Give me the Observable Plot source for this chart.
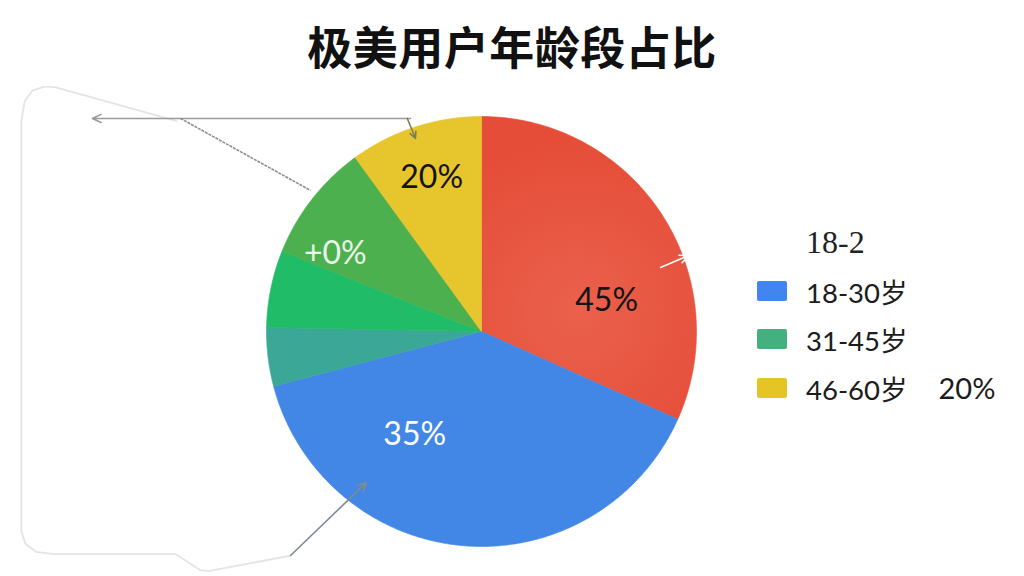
<!DOCTYPE html>
<html><head><meta charset="utf-8">
<script src="https://cdn.jsdelivr.net/npm/d3@7"></script>
<script src="https://cdn.jsdelivr.net/npm/@observablehq/plot@0.6"></script>
<style>
  html,body{margin:0;padding:0;background:#fff;}
  body{width:1024px;height:576px;overflow:hidden;position:relative;font-family:Lato,"Noto Sans CJK SC",sans-serif;}
  #title{position:absolute;left:0;top:23px;width:1024px;text-align:center;font:700 45px/1 "Noto Sans CJK SC",sans-serif;color:#111;letter-spacing:0.5px;}
  #chart{position:absolute;left:0;top:86px;}
  #legend{position:absolute;left:757px;top:218px;}
  .row{height:48.5px;display:flex;align-items:center;font:400 27.5px Lato,"Noto Sans CJK SC",sans-serif;color:#1c1c1c;white-space:pre;}
  .sw{width:30px;height:20px;margin-right:19px;border-radius:2px;flex:none;}
  .note{margin-left:31px;font-size:29px;}
  .first{padding-left:49px;font-family:"Liberation Serif","DejaVu Serif",serif;font-size:32px;color:#222;}
</style>
</head><body>
<div id="title">极美用户年龄段占比</div>
<div id="chart"></div>
<div id="legend"></div>
<script>
// ---- data ----
const sliceKeys   = ["red", "blue", "teal", "brightGreen", "green", "yellow"];
const sliceShares = [31.7, 39.2, 4.4, 5.8, 8.9, 10.0];   // share of the circle
const labelTexts  = ["45%", "35%", "+0%", "20%"];
const labelSlices = ["red", "blue", "green", "yellow"];
const legendLabels = ["18-2", "18-30岁", "31-45岁", "46-60岁"];
const legendNotes  = ["", "", "", "20%"];
const legendSlices = [null, "blue", "teal", "yellow"];

// ---- style / layout ----
const sliceColors = {red: "url(#redGrad)", blue: "#4287E6", teal: "#3AA797", brightGreen: "#20BC68", green: "#4DB04F", yellow: "#E7C52C"};
const legendColors = {blue: "#4285F0", teal: "#45B07F", yellow: "#E5C525"};
const labelStyle = [
  {angle: 76, r: 0.60, fill: "#141414"},
  {angle: 213, r: 0.57, fill: "#ffffff"},
  {angle: 298, r: 0.77, fill: "#e9f6ea"},
  {angle: 342, r: 0.75, fill: "#141414"}
];
const W = 1024, H = 490, cx = 481, cy = 245, R = 215;

// pie geometry from the shares
const arcs = d3.pie().sort(null).value(d => d.share)
  .startAngle(0).endAngle(2 * Math.PI)(sliceKeys.map((k, i) => ({key: k, share: sliceShares[i]})));
const polys = [];
for (const a of arcs) {
  const n = Math.max(4, Math.ceil((a.endAngle - a.startAngle) / 0.01));
  polys.push({key: a.data.key, x: 0, y: 0});
  for (let j = 0; j <= n; j++) {
    const t = a.startAngle + (a.endAngle - a.startAngle) * j / n;
    polys.push({key: a.data.key, x: Math.sin(t), y: Math.cos(t)});
  }
  polys.push({key: a.data.key, x: 0, y: 0});
}
const labels = labelTexts.map((t, i) => {
  const s = labelStyle[i], th = s.angle * Math.PI / 180;
  return {text: t, slice: labelSlices[i], x: s.r * Math.sin(th), y: s.r * Math.cos(th), fill: s.fill};
});

// decorative connector lines (in pie-radius units)
const frame = [[-1.42,0.98],[-1.98,1.135],[-2.03,1.14],[-2.09,1.12],[-2.125,1.07],[-2.14,0.98],[-2.14,-0.93],[-2.12,-0.99],[-2.07,-1.025],[-1.99,-1.035],[-1.423,-1.035],[-1.307,-1.11],[-1.27,-1.115],[-0.888,-1.042]].map(([x,y]) => ({x,y}));
const connectors = [
  {x1: -1.40, y1: 0.991, x2: -0.795, y2: 0.656, s: "#8a8a8a", w: 1.6, head: 0},
  {x1: -0.888, y1: -1.042, x2: -0.535, y2: -0.702, s: "#7f8a90", w: 1.6, head: 10},
  {x1: -0.33, y1: 0.991, x2: -1.81, y2: 0.991, s: "#9a9a9a", w: 1.6, head: 10},
  {x1: -0.345, y1: 0.991, x2: -0.307, y2: 0.898, s: "#7d7d5a", w: 1.6, head: 8},
  {x1: 0.833, y1: 0.298, x2: 0.963, y2: 0.353, s: "#ffffff", w: 1.3, head: 7}
];

const plot = Plot.plot({
  width: W, height: H, margin: 0,
  x: {domain: [-cx / R, (W - cx) / R], axis: null},
  y: {domain: [-(H - cy) / R, cy / R], axis: null},
  color: {type: "ordinal", domain: sliceKeys, range: sliceKeys.map(k => sliceColors[k])},
  marks: [
    Plot.line(polys, {x: "x", y: "y", z: "key", fill: "key", stroke: "key", strokeWidth: 0.6, curve: "linear"}),
    Plot.line(frame, {x: "x", y: "y", stroke: "#e4e4e4", strokeWidth: 1.8, curve: "linear"}),
    Plot.arrow(connectors.filter(d => d.head > 0), {x1: "x1", y1: "y1", x2: "x2", y2: "y2", stroke: d => d.s, strokeWidth: 1.6, headLength: 9, headAngle: 50}),
    Plot.link(connectors.filter(d => d.head === 0), {x1: "x1", y1: "y1", x2: "x2", y2: "y2", stroke: "#8e8e8e", strokeWidth: 1.6, strokeDasharray: "3,1"}),
    Plot.text(labels, {x: "x", y: "y", text: "text", fill: "fill", fontSize: 32, fontFamily: "Lato, sans-serif", fontWeight: 400})
  ]
});
// soft radial gradient for the red slice
const defs = d3.select(plot).insert("defs", ":first-child");
const g = defs.append("radialGradient").attr("id", "redGrad").attr("gradientUnits", "userSpaceOnUse")
  .attr("cx", cx + 0.45 * R).attr("cy", cy - 0.1 * R).attr("r", 0.8 * R);
g.append("stop").attr("offset", "0%").attr("stop-color", "#EA614C");
g.append("stop").attr("offset", "100%").attr("stop-color", "#E54D38");
d3.select(plot).style("color", "inherit");
document.getElementById("chart").appendChild(plot);

// legend
const leg = d3.select("#legend");
legendLabels.forEach((t, i) => {
  const row = leg.append("div").attr("class", "row" + (legendSlices[i] ? "" : " first"));
  if (legendSlices[i]) row.append("div").attr("class", "sw").style("background", legendColors[legendSlices[i]]);
  row.append("span").text(t);
  if (legendNotes[i]) row.append("span").attr("class", "note").text(legendNotes[i]);
});
</script>
</body></html>
